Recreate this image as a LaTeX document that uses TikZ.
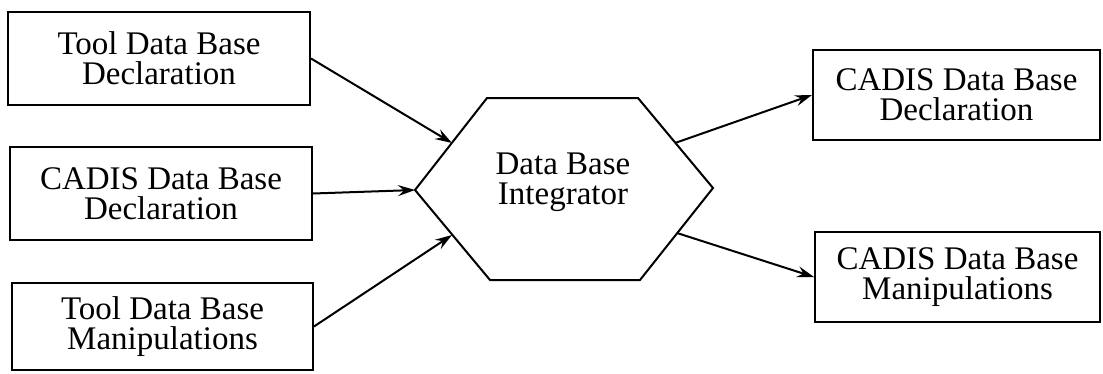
\documentclass[tikz,border=0pt]{standalone}
\usepackage{fontspec}
\setmainfont{Liberation Serif}
\usetikzlibrary{arrows.meta}
\tikzset{
  box/.style={draw, line width=2pt, rectangle, inner sep=0pt, align=center,
              font=\fontsize{33}{30}\selectfont},
  label/.style={inner sep=0pt, align=center, font=\fontsize{33}{30}\selectfont},
  flow/.style={line width=2pt, -{Stealth[length=17pt,width=11pt,inset=6pt]}},
}
\begin{document}
\begin{tikzpicture}[x=1pt,y=-1pt]
\useasboundingbox (0,0) rectangle (1103,373);

% input boxes
\node[box, minimum width=302pt, minimum height=93pt] (tdecl) at (159,58.5)
  {Tool Data Base\\Declaration};
\node[box, minimum width=302pt, minimum height=93pt] (cdecl) at (161,193.5)
  {CADIS Data Base\\Declaration};
\node[box, minimum width=301pt, minimum height=87pt] (tmanip) at (162.5,326.5)
  {Tool Data Base\\Manipulations};

% output boxes
\node[box, minimum width=287pt, minimum height=90pt] (odecl) at (956.5,95)
  {CADIS Data Base\\Declaration};
\node[box, minimum width=285pt, minimum height=90pt] (omanip) at (957.5,277)
  {CADIS Data Base\\Manipulations};

% integrator hexagon
\coordinate (h1) at (487,98);
\coordinate (h2) at (638,98);
\coordinate (h3) at (713,188);
\coordinate (h4) at (640,280);
\coordinate (h5) at (490,280);
\coordinate (h6) at (415,190);
\draw[line width=2pt, line join=miter] (h1) -- (h2) -- (h3) -- (h4) -- (h5) -- (h6) -- cycle;
\node[label] (integ) at (563,182) {Data Base\\Integrator};

% connector ends on the hexagon edges
\coordinate (inA) at (452,143);
\coordinate (inB) at (415,190);
\coordinate (inC) at (452,235);
\coordinate (outA) at (675,143);
\coordinate (outB) at (677,233);

\draw[flow] (tdecl.east) -- (inA);
\draw[flow] (cdecl.east) -- (inB);
\draw[flow] (tmanip.east) -- (inC);
\draw[flow] (outA) -- (odecl.west);
\draw[flow] (outB) -- (omanip.west);
\end{tikzpicture}
\end{document}
